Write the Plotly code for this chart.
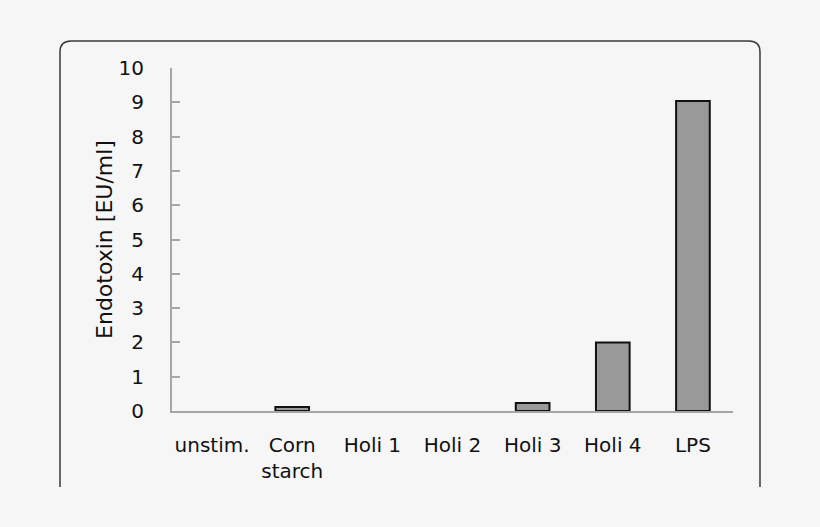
import plotly.graph_objects as go

categories = ['unstim.', 'Corn<br>starch', 'Holi 1', 'Holi 2', 'Holi 3', 'Holi 4', 'LPS']
endotoxin = [0, 0.12, 0, 0, 0.23, 2.0, 9.04]
y_ticks = list(range(0, 11))

W, H = 820, 527
L, R, T, B = 172, 733, 68, 411
BG = '#f6f6f6'


def px_x(px):
    return (px - L) / (R - L)


def px_y(py):
    return (B - py) / (B - T)


def panel_path():
    # open-bottom rounded frame around the chart (in pixels, converted to paper)
    x0, x1, y0, y1, r = 60, 760, 41, 487, 11
    pts = [
        'M %f,%f' % (px_x(x0), px_y(y1)),
        'L %f,%f' % (px_x(x0), px_y(y0 + r)),
        'Q %f,%f %f,%f' % (px_x(x0), px_y(y0), px_x(x0 + r), px_y(y0)),
        'L %f,%f' % (px_x(x1 - r), px_y(y0)),
        'Q %f,%f %f,%f' % (px_x(x1), px_y(y0), px_x(x1), px_y(y0 + r)),
        'L %f,%f' % (px_x(x1), px_y(y1)),
    ]
    return ' '.join(pts)


def main():
    fig = go.Figure()
    # empty bars (value 0) get no outline, like the original
    outline = [2 if v > 0 else 0 for v in endotoxin]
    fig.add_trace(go.Bar(
        x=categories, y=endotoxin, width=0.42,
        marker=dict(color='#999999', line=dict(color='#111111', width=outline)),
    ))

    fig.update_layout(
        width=W, height=H,
        margin=dict(l=L, r=W - R, t=T, b=H - B, pad=0),
        paper_bgcolor=BG, plot_bgcolor=BG,
        font=dict(family='DejaVu Sans', size=20, color='#111111'),
        showlegend=False,
        shapes=[dict(type='path', xref='paper', yref='paper', path=panel_path(),
                     line=dict(color='#3a3a3a', width=1.5))],
    )
    fig.update_xaxes(
        type='category', range=[-0.5, 6.5], showgrid=False, zeroline=False,
        showline=True, linecolor='#a6a6a6', linewidth=2, ticks='',
        ticklabelstandoff=15, automargin=False,
    )
    fig.update_yaxes(
        range=[0, 10], tickvals=y_ticks, showgrid=False, zeroline=False,
        showline=True, linecolor='#a6a6a6', linewidth=2,
        ticks='inside', ticklen=8, tickwidth=2, tickcolor='#a6a6a6',
        ticklabelstandoff=22, automargin=False,
        title=dict(text='Endotoxin [EU/ml]', font=dict(size=22), standoff=0),
    )
    fig.write_html(
        'out.html',
        config={'displayModeBar': False},
        post_script="document.body.style.margin='0';"
                    "document.body.style.background='%s';" % BG,
    )


if __name__ == '__main__':
    main()
